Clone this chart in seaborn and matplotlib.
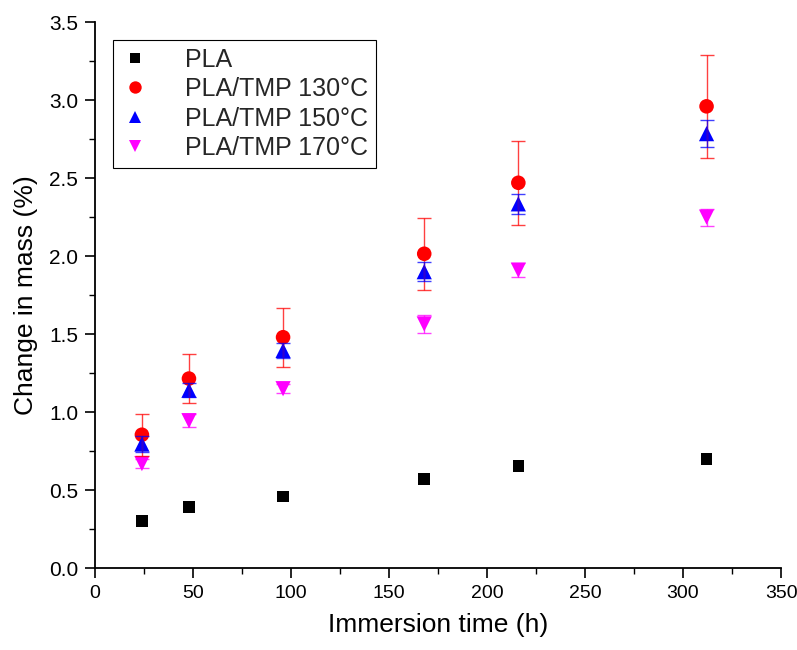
import numpy as np
import pandas as pd
import matplotlib
matplotlib.use("Agg")
import matplotlib.pyplot as plt
import seaborn as sns
from matplotlib.ticker import MultipleLocator

sns.set_theme(style="ticks")
plt.rcParams['font.family'] = ['Liberation Sans', 'DejaVu Sans']

time_h = [24, 48, 96, 168, 216, 312]
series_names = ["PLA", "PLA/TMP 130°C", "PLA/TMP 150°C", "PLA/TMP 170°C"]
pla = [0.30, 0.39, 0.46, 0.57, 0.655, 0.70]
pla_err = [0.0, 0.0, 0.0, 0.0, 0.0, 0.0]
tmp130 = [0.855, 1.215, 1.48, 2.015, 2.47, 2.96]
tmp130_err = [0.135, 0.155, 0.19, 0.23, 0.27, 0.33]
tmp150 = [0.795, 1.14, 1.395, 1.90, 2.335, 2.785]
tmp150_err = [0.05, 0.045, 0.05, 0.06, 0.065, 0.085]
tmp170 = [0.67, 0.945, 1.15, 1.565, 1.91, 2.25]
tmp170_err = [0.03, 0.04, 0.03, 0.06, 0.045, 0.055]

colors = ["#000000", "#FF0000", "#0000FF", "#FF00FF"]
markers = ["s", "o", "^", "v"]
msizes = [70, 110, 120, 120]

values = [pla, tmp130, tmp150, tmp170]
errors = [pla_err, tmp130_err, tmp150_err, tmp170_err]

rows = []
for name, vals, errs in zip(series_names, values, errors):
    for t, v, e in zip(time_h, vals, errs):
        rows.append({"time": t, "mass": v, "err": e, "series": name})
df = pd.DataFrame(rows)

fig = plt.figure(figsize=(7.97, 6.50), dpi=100)
ax = fig.add_axes([0.119, 0.126, 0.861, 0.840])

for name, c in zip(series_names, colors):
    sub = df[df["series"] == name]
    if sub["err"].max() > 0:
        ax.errorbar(sub["time"], sub["mass"], yerr=sub["err"], fmt="none",
                    ecolor=c, elinewidth=1.0, capsize=5, capthick=1.0,
                    alpha=0.75, zorder=3)

sns.scatterplot(data=df, x="time", y="mass", hue="series", style="series",
                size="series",
                hue_order=series_names, style_order=series_names,
                size_order=series_names,
                palette=dict(zip(series_names, colors)),
                markers=dict(zip(series_names, markers)),
                sizes=dict(zip(series_names, msizes)),
                linewidth=0, ax=ax, zorder=2, legend=True)

ax.set_xlim(0, 350)
ax.set_ylim(0, 3.5)
ax.xaxis.set_major_locator(MultipleLocator(50))
ax.xaxis.set_minor_locator(MultipleLocator(25))
ax.yaxis.set_major_locator(MultipleLocator(0.5))
ax.yaxis.set_minor_locator(MultipleLocator(0.25))
ax.yaxis.set_major_formatter(matplotlib.ticker.FormatStrFormatter("%.1f"))

for s in ["top", "right"]:
    ax.spines[s].set_visible(False)
for s in ["left", "bottom"]:
    ax.spines[s].set_color("black")
    ax.spines[s].set_linewidth(1.3)

ax.tick_params(axis="both", which="major", direction="out", length=7, width=1.2,
               colors="black", pad=5)
ax.tick_params(axis="y", which="major", labelsize=15)
ax.tick_params(axis="x", which="major", labelsize=14)
ax.tick_params(axis="both", which="minor", direction="out", length=4, width=1.0,
               colors="black")

ax.set_xlabel("Immersion time (h)", fontsize=19, color="black", labelpad=8)
ax.set_ylabel("Change in mass (%)", fontsize=19, color="black", labelpad=8)

handles, labels = ax.get_legend_handles_labels()
leg = ax.legend(handles=handles, labels=labels, loc="upper left",
                bbox_to_anchor=(0.026, 0.967), fontsize=18, frameon=True,
                fancybox=False, edgecolor="black", framealpha=1,
                handletextpad=1.4, labelspacing=0.22, borderpad=0.3,
                markerscale=0.85, handlelength=1.2, borderaxespad=0)
leg.get_frame().set_linewidth(0.8)

fig.savefig("out.png", dpi=100)
